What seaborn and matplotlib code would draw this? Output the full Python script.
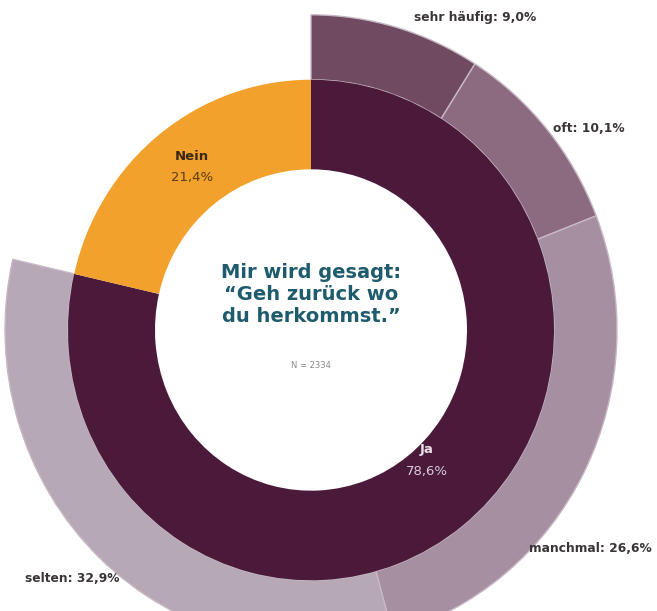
import matplotlib
matplotlib.use("Agg")
import matplotlib.pyplot as plt
import seaborn as sns

# Data
inner_labels = ["Ja", "Nein"]
inner_values = [78.6, 21.4]
inner_colors = ["#4b1a3b", "#f2a22c"]

outer_labels = ["sehr häufig", "oft", "manchmal", "selten"]
outer_values = [9.0, 10.1, 26.6, 32.9]
outer_colors = ["#6f4a61", "#8c6a80", "#a58fa1", "#b7a8b6"]

title_text = "Mir wird gesagt:\n\u201cGeh zurück wo\ndu herkommst.\u201d"
n_text = "N = 2334"

sns.set_theme(style="white")
plt.rcParams["font.family"] = ["DejaVu Sans"]

W, H = 657, 611
sy = 1.03  # the source image is slightly stretched vertically

fig = plt.figure(figsize=(W / 100, H / 100), dpi=100)
ax = fig.add_axes([0, 0, 1, 1])


def py(y):
    # pixel row (from top) -> data y
    return (H - y) / sy


cx, cy = 311, py(330)
r_outer = 306
r_mid = 243
r_hole = 156

# Outer ring (only the "Ja" part), remaining share left blank
rest = 100 - sum(outer_values)
outer_wedges, _ = ax.pie(outer_values + [rest], radius=r_outer, center=(cx, cy),
                         colors=outer_colors + ["none"], startangle=90,
                         counterclock=False,
                         wedgeprops=dict(width=r_outer - r_mid,
                                         edgecolor="#c8b8c5", linewidth=1.0),
                         frame=True)
outer_wedges[-1].set_edgecolor("none")

# Inner ring
ax.pie(inner_values, radius=r_mid, center=(cx, cy), colors=inner_colors,
       startangle=90, counterclock=False,
       wedgeprops=dict(width=r_mid - r_hole, edgecolor="none"), frame=True)

ax.set_aspect("auto")
ax.set_xlim(0, W)
ax.set_ylim(0, H / sy)
ax.axis("off")

# Outer labels
lab_pos = {"sehr häufig": (475, 18), "oft": (589, 128),
           "manchmal": (590, 548), "selten": (72, 578)}
for lab, val in zip(outer_labels, outer_values):
    x, y = lab_pos[lab]
    ax.text(x, py(y), f"{lab}: {val:.1f}%".replace(".", ","),
            ha="center", va="center", fontsize=8.8, fontweight="bold",
            color="#3a3438")

# Inner labels
ax.text(192, py(157), "Nein", ha="center", va="center", fontsize=9.5,
        fontweight="bold", color="#3b2812")
ax.text(192, py(178), f"{inner_values[1]:.1f}%".replace(".", ","),
        ha="center", va="center", fontsize=9.5, color="#5a3b14")
ax.text(427, py(450), "Ja", ha="center", va="center", fontsize=9.5,
        fontweight="bold", color="#eadfe8")
ax.text(427, py(471), f"{inner_values[0]:.1f}%".replace(".", ","),
        ha="center", va="center", fontsize=9.5, color="#d9cad7")

# Centre text
ax.text(cx, py(294), title_text, ha="center", va="center", fontsize=14,
        fontweight="bold", color="#1e5b6d", linespacing=1.2)
ax.text(cx, py(365), n_text, ha="center", va="center", fontsize=6,
        color="#8a8a8a")

fig.savefig("out.png", dpi=100)
